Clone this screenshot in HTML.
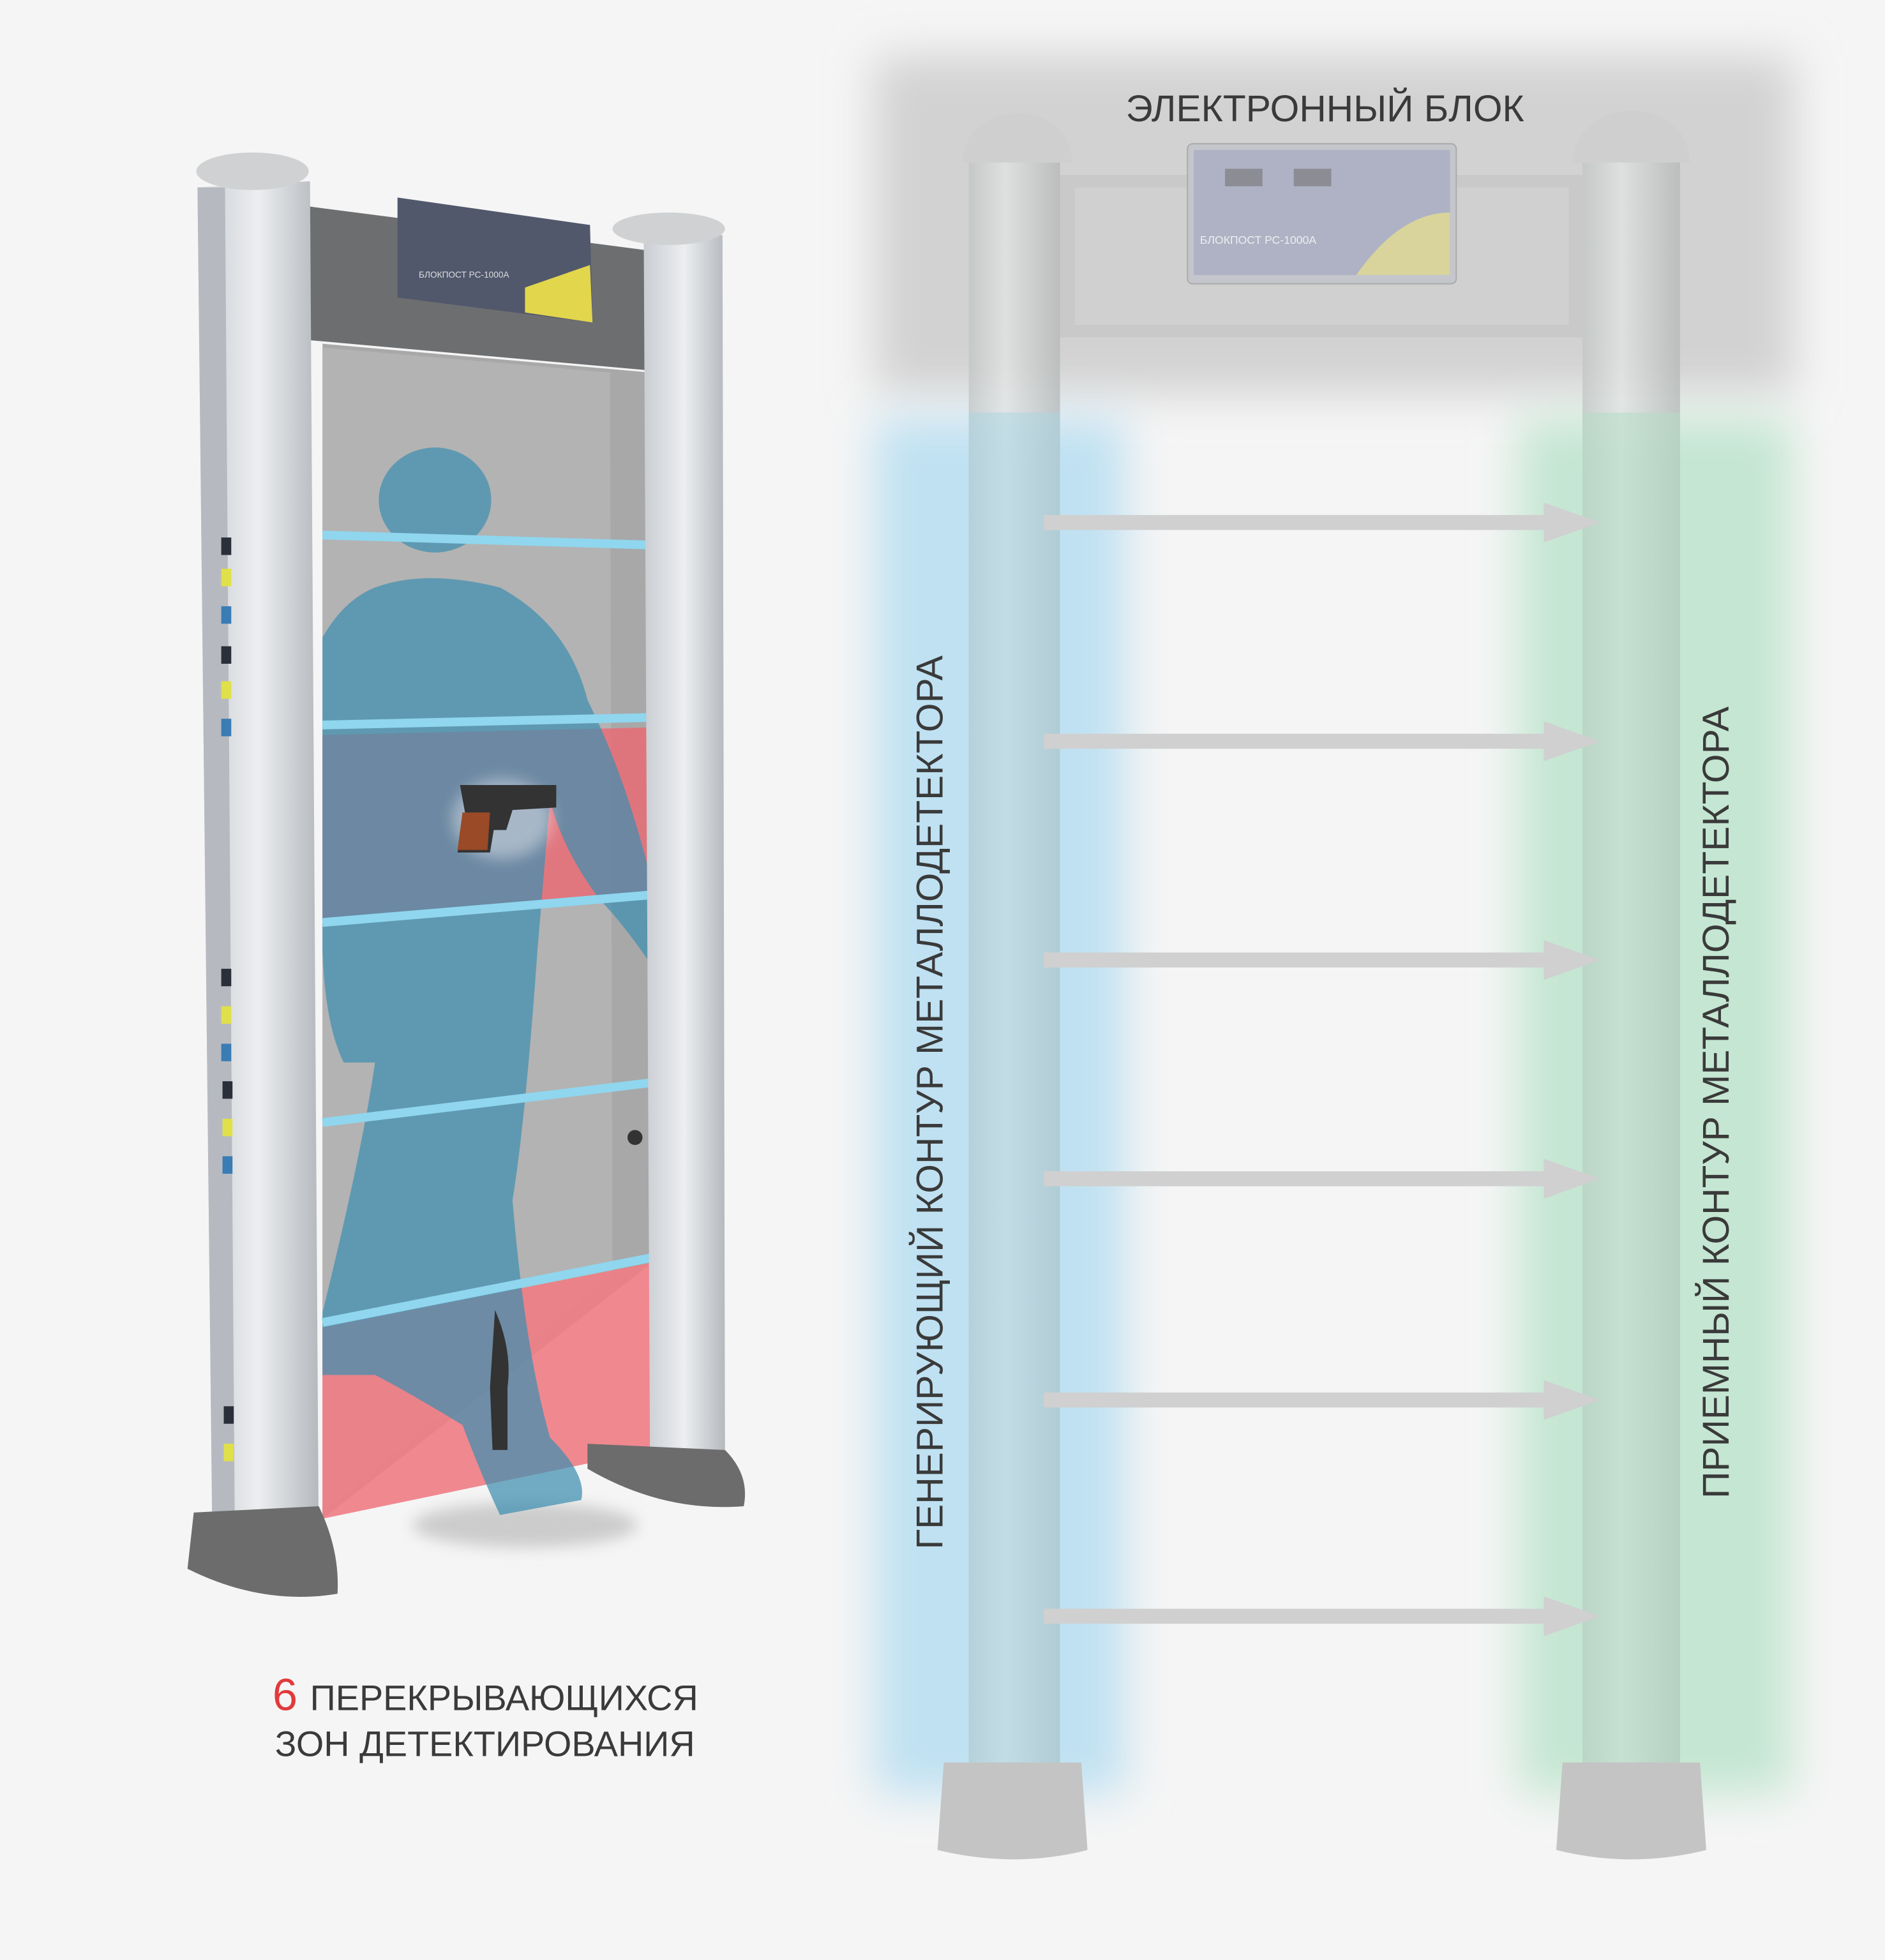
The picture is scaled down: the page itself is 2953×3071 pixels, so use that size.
<!DOCTYPE html>
<html><head><meta charset="utf-8"><style>
html,body{margin:0;padding:0;background:#f5f5f5;}
svg{display:block;}
text{font-family:"Liberation Sans",sans-serif;fill:#3a3a3a;}
</style></head><body>
<svg width="2953" height="3071" viewBox="0 0 1508 1568" preserveAspectRatio="none" xmlns="http://www.w3.org/2000/svg">
<defs>
<filter id="b20" x="-50%" y="-50%" width="200%" height="200%"><feGaussianBlur stdDeviation="18"/></filter>
<filter id="b8" x="-50%" y="-50%" width="200%" height="200%"><feGaussianBlur stdDeviation="6"/></filter>
<linearGradient id="pil" x1="0" x2="1"><stop offset="0" stop-color="#c2c5c5"/><stop offset="0.4" stop-color="#e2e4e4"/><stop offset="1" stop-color="#b4b7b7"/></linearGradient>
<linearGradient id="lp" x1="0" x2="1"><stop offset="0" stop-color="#c9cdd2"/><stop offset="0.5" stop-color="#eceef0"/><stop offset="1" stop-color="#b5b9be"/></linearGradient>
</defs>
<rect width="1508" height="1568" fill="#f5f5f5"/>

<rect x="700" y="45" width="735" height="270" fill="#d2d2d2" filter="url(#b20)"/>
<rect x="700" y="335" width="200" height="1100" fill="#bfe1f2" filter="url(#b20)"/>
<rect x="1215" y="335" width="218" height="1100" fill="#c4e6d2" filter="url(#b20)"/>

<rect x="848" y="140" width="418" height="130" fill="#c9c9c9"/>
<rect x="860" y="150" width="395" height="110" fill="#d0d0d0"/>
<rect x="950" y="115" width="215" height="112" rx="4" fill="#c4c6cc" stroke="#aaa"/>
<rect x="955" y="120" width="205" height="100" fill="#aeb2c4"/>
<path d="M1085 220 Q1120 170 1160 170 L1160 220 Z" fill="#d8d49c"/>
<rect x="980" y="135" width="30" height="14" fill="#8c8c94"/><rect x="1035" y="135" width="30" height="14" fill="#8c8c94"/>
<text x="960" y="195" font-size="9" style="fill:#eee">БЛОКПОСТ РС-1000А</text>

<rect x="775" y="110" width="73" height="1310" fill="url(#pil)" opacity="0.75"/>
<rect x="775" y="330" width="73" height="1090" fill="#a9d5e4" opacity="0.5"/>
<path d="M770 130 Q772 95 812 90 Q855 92 858 130 Z" fill="#cfcfcf"/>
<path d="M755 1410 L865 1410 L870 1480 Q812 1495 750 1480 Z" fill="#c4c4c4"/>
<rect x="1266" y="110" width="78" height="1310" fill="url(#pil)" opacity="0.75"/>
<rect x="1266" y="330" width="78" height="1090" fill="#b4dcc4" opacity="0.55"/>
<path d="M1258 130 Q1262 92 1305 88 Q1350 92 1352 130 Z" fill="#cfcfcf"/>
<path d="M1250 1410 L1360 1410 L1365 1480 Q1305 1495 1245 1480 Z" fill="#c4c4c4"/>

<g fill="#d0d0d0">
<g id="ar"><rect x="835" y="412" width="405" height="12"/><polygon points="1235,402 1280,418 1235,434"/></g>
<use href="#ar" y="175"/><use href="#ar" y="350"/><use href="#ar" y="525"/><use href="#ar" y="702"/><use href="#ar" y="875"/>
</g>

<text x="1060" y="97" font-size="30" text-anchor="middle">ЭЛЕКТРОННЫЙ БЛОК</text>
<text transform="translate(754,882) rotate(-90)" font-size="30" text-anchor="middle">ГЕНЕРИРУЮЩИЙ КОНТУР МЕТАЛЛОДЕТЕКТОРА</text>
<text transform="translate(1383,882) rotate(-90)" font-size="30" text-anchor="middle">ПРИЕМНЫЙ КОНТУР МЕТАЛЛОДЕТЕКТОРА</text>

<ellipse cx="420" cy="1220" rx="90" ry="18" fill="#ccc" filter="url(#b8)"/>
<polygon points="246,165 516,200 516,296 246,272" fill="#6d6e70"/>
<polygon points="318,158 472,180 474,258 318,238" fill="#51586c"/>
<polygon points="420,230 472,212 474,258 420,250" fill="#e2d64c"/>
<text x="335" y="222" font-size="7" style="fill:#ddd">БЛОКПОСТ РС-1000А</text>
<polygon points="258,275 520,298 522,1010 258,1215" fill="#a8a8a8"/>
<polygon points="258,278 488,298 490,1020 258,1210" fill="#b3b3b3"/>
<polygon points="258,588 520,582 520,715 258,735" fill="#e86c76" opacity="0.85"/>
<polygon points="258,1062 522,1010 522,1160 258,1215" fill="#f07c84" opacity="0.9"/>
<g fill="#3f8fb0" opacity="0.72">
<ellipse cx="348" cy="400" rx="45" ry="42"/>
<path d="M300 470 Q340 455 400 470 Q455 500 470 560 Q500 620 520 700 Q545 740 550 780 L530 785 Q500 740 480 720 Q450 680 440 640 L430 760 Q420 900 410 960 Q420 1080 440 1150 Q470 1180 465 1200 L400 1212 Q385 1180 370 1140 Q320 1110 300 1100 L258 1100 L258 1050 Q290 920 300 850 L275 850 Q260 820 258 760 L258 510 Q275 480 300 470 Z"/>
</g>
<g stroke="#8fd6ee" stroke-width="7">
<line x1="258" y1="428" x2="520" y2="436"/>
<line x1="258" y1="580" x2="520" y2="574"/>
<line x1="258" y1="738" x2="520" y2="716"/>
<line x1="258" y1="898" x2="522" y2="866"/>
<line x1="258" y1="1058" x2="522" y2="1006"/>
</g>
<ellipse cx="402" cy="655" rx="40" ry="32" fill="#fff" opacity="0.4" filter="url(#b8)"/>
<path d="M368 628 L445 628 L445 646 L410 648 L405 664 L395 664 L392 682 L366 682 L372 650 Z" fill="#333"/>
<path d="M370 650 L392 650 L390 680 L366 680 Z" fill="#9a4a26"/>
<path d="M396 1048 Q410 1080 406 1110 L406 1160 L394 1160 L392 1110 Z" fill="#333"/>
<polygon points="158,150 248,145 255,1240 170,1245" fill="url(#lp)"/>
<polygon points="158,150 180,150 188,1245 170,1245" fill="#b6bac0"/>
<ellipse cx="202" cy="137" rx="45" ry="15" fill="#cfd1d3"/>
<g fill="#2b2f3a">
<rect x="177" y="430" width="8" height="14"/><rect x="177" y="517" width="8" height="14"/><rect x="177" y="775" width="8" height="14"/><rect x="178" y="865" width="8" height="14"/><rect x="179" y="1125" width="8" height="14"/></g>
<g fill="#e0e04a"><rect x="177" y="455" width="8" height="14"/><rect x="177" y="545" width="8" height="14"/><rect x="177" y="805" width="8" height="14"/><rect x="178" y="895" width="8" height="14"/><rect x="179" y="1155" width="8" height="14"/></g>
<g fill="#3a7cb4"><rect x="177" y="485" width="8" height="14"/><rect x="177" y="575" width="8" height="14"/><rect x="177" y="835" width="8" height="14"/><rect x="178" y="925" width="8" height="14"/></g>
<path d="M155 1210 L255 1205 Q272 1240 270 1275 Q210 1285 150 1255 Z" fill="#6c6c6c"/>
<polygon points="515,190 578,188 580,1170 520,1172" fill="url(#lp)"/>
<ellipse cx="535" cy="183" rx="45" ry="13" fill="#cfd1d3"/>
<circle cx="508" cy="910" r="6" fill="#333"/>
<path d="M470 1155 L580 1160 Q600 1180 595 1205 Q530 1210 470 1175 Z" fill="#6c6c6c"/>

<text x="218" y="1368" font-size="36" style="fill:#e2393a">6</text>
<text x="248" y="1368" font-size="28.5">ПЕРЕКРЫВАЮЩИХСЯ</text>
<text x="220" y="1405" font-size="28.5">ЗОН ДЕТЕКТИРОВАНИЯ</text>
</svg>
</body></html>
